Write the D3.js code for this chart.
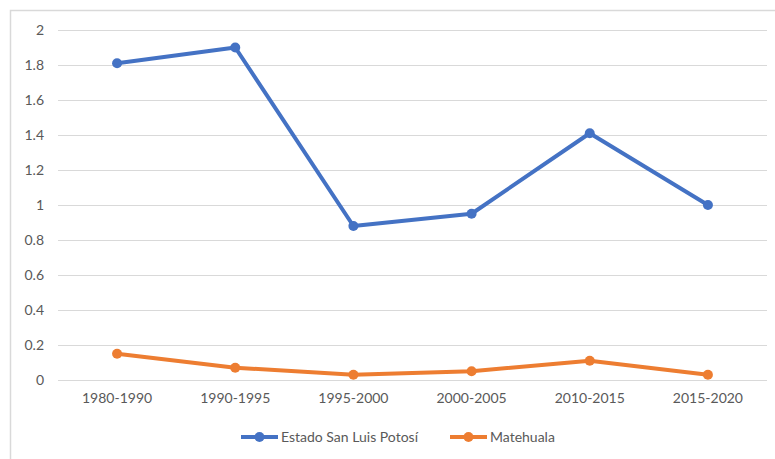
<!DOCTYPE html>
<html>
<head>
<meta charset="utf-8">
<script src="https://cdn.jsdelivr.net/npm/d3@7"></script>
<style>
  body { margin: 0; background: #fff; }
  text { font-family: Lato, "Open Sans", sans-serif; fill: #595959; }
</style>
</head>
<body>
<div id="chart"></div>
<script>
// data
var periods = ["1980-1990", "1990-1995", "1995-2000", "2000-2005", "2010-2015", "2015-2020"];
var slpValues = [1.81, 1.90, 0.88, 0.95, 1.41, 1.00];
var matehualaValues = [0.15, 0.07, 0.03, 0.05, 0.11, 0.03];
var yTicks = [0, 0.2, 0.4, 0.6, 0.8, 1, 1.2, 1.4, 1.6, 1.8, 2];

var series = [
  {name: "Estado San Luis Potosí", values: slpValues, color: "#4472C4"},
  {name: "Matehuala", values: matehualaValues, color: "#ED7D31"}
];

var W = 775, H = 459;
var svg = d3.select("#chart").append("svg")
  .attr("width", W)
  .attr("height", H);

// chart frame
svg.append("rect")
  .attr("x", 10.5).attr("y", 10.5)
  .attr("width", W + 20).attr("height", H + 20)
  .attr("fill", "none")
  .attr("stroke", "#d9d9d9")
  .attr("stroke-width", 1.5);

var x = d3.scaleBand()
  .domain(periods)
  .range([58, 767]);

var y = d3.scaleLinear()
  .domain([0, 2])
  .range([380, 30]);

// gridlines
svg.append("g")
  .selectAll("line")
  .data(yTicks)
  .enter().append("line")
  .attr("x1", 58).attr("x2", 767)
  .attr("y1", function(d){ return Math.round(y(d)) + 0.5; })
  .attr("y2", function(d){ return Math.round(y(d)) + 0.5; })
  .attr("stroke", "#d9d9d9")
  .attr("stroke-width", 1);

// y labels
svg.append("g")
  .selectAll("text")
  .data(yTicks)
  .enter().append("text")
  .attr("x", 44)
  .attr("y", function(d){ return y(d) + 5; })
  .attr("text-anchor", "end")
  .style("font-size", "14px")
  .text(function(d){ return d; });

// x labels
svg.append("g")
  .selectAll("text")
  .data(periods)
  .enter().append("text")
  .attr("x", function(d){ return x(d) + x.bandwidth() / 2; })
  .attr("y", 403)
  .attr("text-anchor", "middle")
  .style("font-size", "14px")
  .text(function(d){ return d; });

var line = d3.line()
  .x(function(d, i){ return x(periods[i]) + x.bandwidth() / 2; })
  .y(function(d){ return y(d); });

series.forEach(function(s){
  svg.append("path")
    .datum(s.values)
    .attr("d", line)
    .attr("fill", "none")
    .attr("stroke", s.color)
    .attr("stroke-width", 4)
    .attr("stroke-linejoin", "round")
    .attr("stroke-linecap", "round");

  svg.append("g")
    .selectAll("circle")
    .data(s.values)
    .enter().append("circle")
    .attr("cx", function(d, i){ return x(periods[i]) + x.bandwidth() / 2; })
    .attr("cy", function(d){ return y(d); })
    .attr("r", 5)
    .attr("fill", s.color);
});

// legend
var legendX = [241, 450];
series.forEach(function(s, i){
  var g = svg.append("g").attr("transform", "translate(" + legendX[i] + ",437)");
  g.append("line")
    .attr("x1", 0).attr("x2", 37)
    .attr("stroke", s.color)
    .attr("stroke-width", 4);
  g.append("circle")
    .attr("cx", 18.5).attr("r", 5)
    .attr("fill", s.color);
  g.append("text")
    .attr("x", 40)
    .attr("y", 5)
    .style("font-size", "14px")
    .text(s.name);
});
</script>
</body>
</html>
